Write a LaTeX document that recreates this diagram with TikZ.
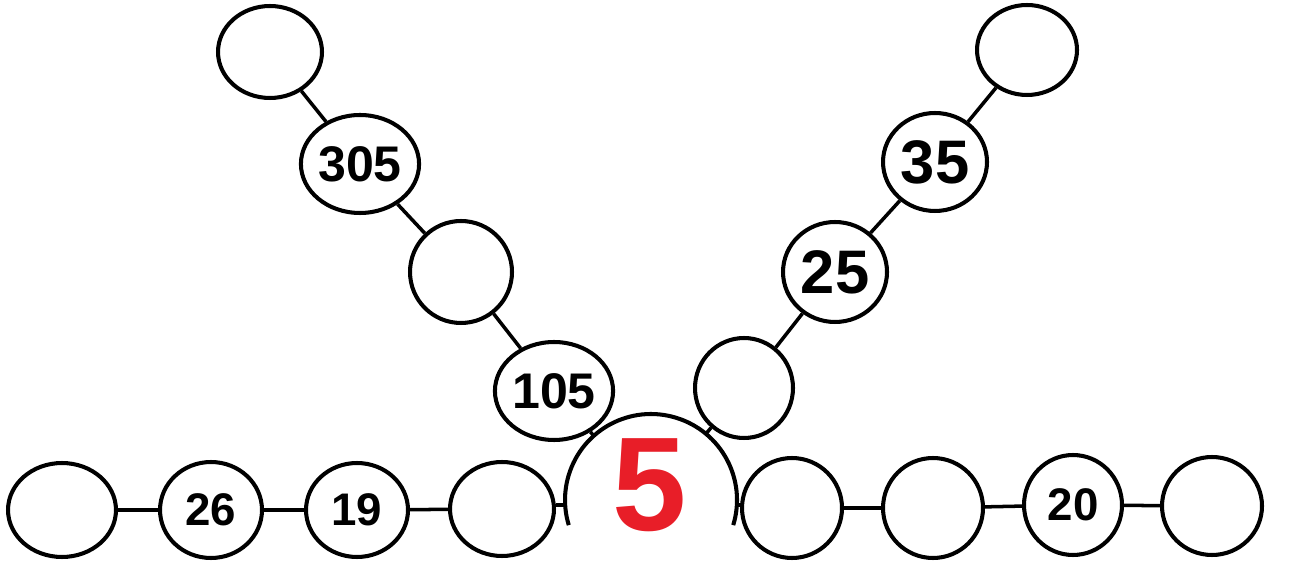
\documentclass[tikz,border=0pt]{standalone}
\usepackage{fontspec}
\setmainfont{Liberation Sans}
\usetikzlibrary{shapes.geometric,calc}
\definecolor{numred}{RGB}{232,30,40}
\begin{document}
\begin{tikzpicture}[x=0.02cm,y=0.02cm,
  ring/.style={draw=black, line width=2.3pt, ellipse, inner sep=0pt, fill=white},
  link/.style={draw=black, line width=2.0pt},
  fsmall/.style={font=\bfseries\fontsize{26}{26}\selectfont},
  fmid/.style={font=\bfseries\fontsize{28.5}{28.5}\selectfont},
  flarge/.style={font=\bfseries\fontsize{35}{35}\selectfont}]
\useasboundingbox (0,0) rectangle (1294,561);
% bottom row left
\node[ring, minimum width=2.16cm, minimum height=1.88cm] (L4) at (62,51) {};
\node[ring, fsmall, minimum width=2.04cm, minimum height=1.92cm] (n26) at (211,51) {26};
\node[ring, fsmall, minimum width=2.04cm, minimum height=1.88cm] (n19) at (357,51) {19};
\node[ring, minimum width=2.08cm, minimum height=1.88cm] (L1) at (502,52) {};
% bottom row right
\node[ring, minimum width=2.0cm, minimum height=2.0cm] (R1) at (792,53) {};
\node[ring, minimum width=2.0cm, minimum height=2.0cm] (R2) at (933,53) {};
\node[ring, fsmall, minimum width=1.96cm, minimum height=2.0cm] (n20) at (1073,56) {20};
\node[ring, minimum width=2.0cm, minimum height=1.96cm] (R4) at (1212,55) {};
% left diagonal
\node[ring, fmid, minimum width=1.98cm, minimum height=1.96cm] (n105) at (554,170) {105};
\node[ring, minimum width=2.04cm, minimum height=2.04cm] (Lm) at (461,289) {};
\node[ring, fmid, minimum width=2.04cm, minimum height=1.96cm] (n305) at (360,397) {305};
\node[ring, minimum width=2.08cm, minimum height=1.84cm] (LT) at (270,509) {};
% right diagonal
\node[ring, minimum width=1.96cm, minimum height=2.0cm] (R0) at (744,173) {};
\node[ring, flarge, minimum width=2.08cm, minimum height=2.0cm] (n25) at (835,289) {25};
\node[ring, flarge, minimum width=2.08cm, minimum height=1.96cm] (n35) at (935,399) {35};
\node[ring, minimum width=2.0cm, minimum height=1.8cm] (RT) at (1027,511) {};
% big arc
\coordinate (C) at (651,61);
\draw[link, line width=2.3pt] (C) ++(-17:1.72cm) arc[start angle=-17, end angle=197, radius=1.72cm];
\coordinate (aL) at ($(C)+(131.7:1.72cm)$);
\coordinate (aR) at ($(C)+(50.3:1.72cm)$);
\coordinate (aW) at (565,56);
\coordinate (aE) at (737,56);
\node[text=numred, font=\bfseries\fontsize{76}{76}\selectfont, inner sep=0pt] (five) at (650,76) {5};
% connectors
\draw[link] (L4) -- (n26);
\draw[link] (n26) -- (n19);
\draw[link] (n19) -- (L1);
\draw[link] (aW) -- (aW -| L1.east);
\draw[link] (aE) -- (aE -| R1.west);
\draw[link] (R1) -- (R2);
\draw[link] (R2) -- (n20);
\draw[link] (n20) -- (R4);
\draw[link] (n105) -- (aL);
\draw[link] (n105) -- (Lm);
\draw[link] (Lm) -- (n305);
\draw[link] (n305) -- (LT);
\draw[link] (R0) -- (aR);
\draw[link] (R0) -- (n25);
\draw[link] (n25) -- (n35);
\draw[link] (n35) -- (RT);
\end{tikzpicture}
\end{document}
